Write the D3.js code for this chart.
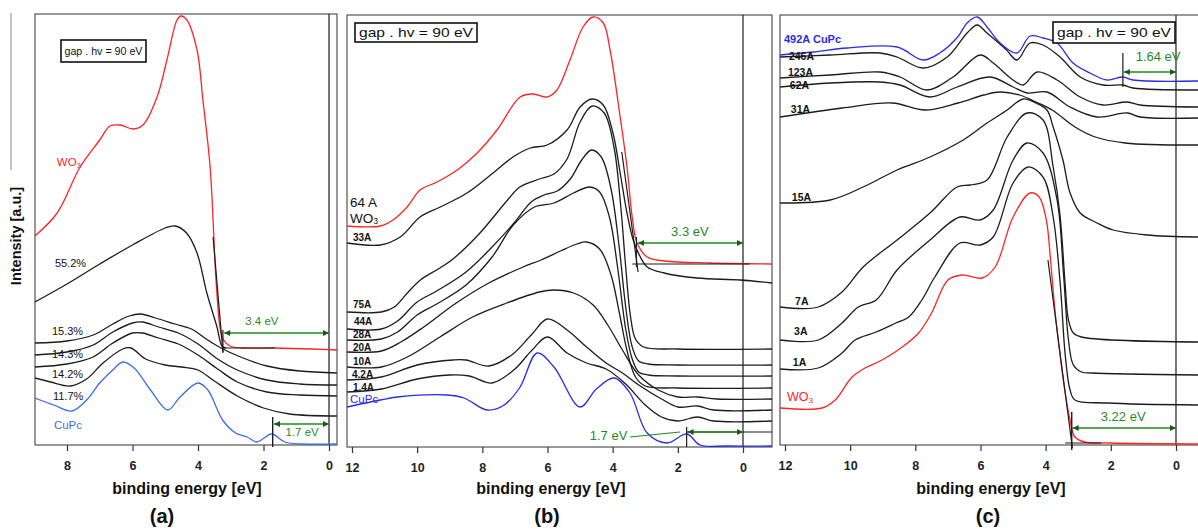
<!DOCTYPE html>
<html>
<head>
<meta charset="utf-8">
<script src="https://cdn.jsdelivr.net/npm/d3@7"></script>
<style>
  body { margin: 0; background: #fff; }
  svg { display: block; font-family: "Liberation Sans", Arial, sans-serif; }
</style>
</head>
<body>
<div id="chart"></div>
<script>
// ---- tick labels ----
const aTicks = [8, 6, 4, 2, 0];
const bTicks = [12, 10, 8, 6, 4, 2, 0];
const cTicks = [12, 10, 8, 6, 4, 2, 0];

// ---- panel (a): [binding energy eV, intensity a.u.] ----
const aWO3 = [[8.98,209],[8.3,232],[7.6,278],[7.0,305],[6.69,319],[6.38,320],[5.98,316],[5.68,320],[5.25,348],[4.95,385],[4.64,425],[4.52,429],[4.34,425],[4.03,395],[3.85,345],[3.63,278],[3.45,165],[3.33,118],[3.24,106],[3.02,99],[2.56,97],[1.65,97],[0.5,96],[-0.24,95]];
const a552 = [[8.98,143],[8.0,161],[7.0,181],[6.0,200],[5.0,217],[4.7,219],[4.35,212],[4.03,192],[3.73,152],[3.42,118],[3.27,99],[3.15,97]];
const a153 = [[8.98,102],[8.0,104],[7.2,110],[6.6,121],[6.1,129],[5.75,131],[5.3,127],[4.7,121],[4.2,116],[3.75,106],[3.3,97],[2.7,88],[1.9,79],[0.9,74],[-0.24,72]];
const a143 = [[8.98,90],[8.0,93],[7.2,100],[6.6,113],[6.0,122],[5.7,123],[5.2,118],[4.6,112],[4.0,101],[3.4,86],[2.8,75],[1.9,65],[0.9,61],[-0.24,60]];
const a142 = [[8.98,78],[8.0,81],[7.2,88],[6.6,102],[6.0,112],[5.7,112],[5.2,107],[4.6,101],[4.0,90],[3.4,76],[2.8,63],[1.9,53],[0.9,50],[-0.24,49]];
const a117 = [[8.98,67],[8.5,63],[7.9,59],[7.4,66],[6.9,82],[6.3,96],[6.05,97],[5.6,86],[5.0,80],[4.5,78],[4.0,75],[3.5,64],[2.8,49],[2.0,37],[1.2,31],[-0.24,29]];
const aCuPc = [[8.98,47],[8.4,40],[7.85,34],[7.4,45],[7.0,62],[6.6,75],[6.3,83],[5.95,77],[5.45,55],[4.92,35],[4.55,48],[4.0,62],[3.7,55],[3.25,25],[2.85,12],[2.5,8],[2.2,3],[1.75,11],[1.35,3],[0.8,1],[-0.24,1]];

// ---- panel (b) ----
const bWO3 = [[12.15,221],[11.13,221],[10.74,227],[10.31,240],[9.91,257],[9.39,265],[8.77,277],[8.16,294],[7.55,317],[6.84,350],[6.44,353],[6.01,350],[5.71,357],[5.31,387],[4.91,420],[4.6,430],[4.29,424],[4.08,397],[3.77,330],[3.56,280],[3.4,230],[3.25,204],[2.94,190],[2.4,186],[1.0,184],[-0.89,183]];
const b33 = [[12.15,204],[11.13,202],[10.52,210],[9.91,230],[9.29,240],[8.47,254],[7.67,274],[7.06,290],[6.53,299],[6.01,302],[5.4,317],[5.0,340],[4.63,348],[4.29,342],[3.99,314],[3.77,274],[3.56,234],[3.37,207],[3.15,190],[2.94,180],[2.42,174],[1.41,169],[0.09,167],[-0.89,164]];
const b75 = [[12.15,135],[11.1,135],[10.7,140],[10.3,154],[9.9,167],[9.3,179],[8.9,188],[8.1,213],[7.25,246],[6.85,260],[6.25,268],[5.8,273],[5.4,288],[5.0,325],[4.63,341],[4.26,334],[3.96,300],[3.75,240],[3.6,180],[3.45,130],[3.3,108],[3.05,100],[2.0,98],[-0.89,98]];
const b44 = [[12.15,118],[11.1,118],[10.6,126],[10.0,145],[9.4,156],[8.5,175],[7.7,200],[7.0,225],[6.5,245],[6.1,252],[5.7,256],[5.3,268],[4.95,287],[4.65,297],[4.35,290],[4.05,258],[3.8,200],[3.6,140],[3.4,100],[3.2,86],[2.9,83],[2.0,82],[-0.89,82]];
const b28 = [[12.15,107],[11.1,108],[10.6,115],[10.0,132],[9.4,143],[8.5,162],[7.7,190],[7.05,222],[6.4,240],[5.8,244],[5.2,254],[4.7,260],[4.4,255],[4.1,230],[3.85,180],[3.6,118],[3.4,88],[3.2,75],[2.9,72],[2.0,71],[-0.89,71]];
const b20 = [[12.15,95],[11.1,96],[10.5,105],[9.8,120],[8.8,144],[7.8,164],[6.75,180],[6.2,187],[5.6,196],[5.1,203],[4.8,205],[4.4,198],[4.05,172],[3.8,135],[3.55,95],[3.3,70],[3.0,61],[2.0,59],[-0.89,59]];
const b10 = [[12.15,80],[11.1,80],[10.3,90],[9.3,110],[8.3,130],[7.25,144],[6.25,155],[5.8,157],[5.2,154],[4.6,142],[4.15,122],[3.7,97],[3.2,72],[2.6,57],[2.0,50],[1.4,50],[0.8,48],[-0.89,48]];
const b4_2 = [[12.15,67],[11.1,70],[10.0,82],[8.9,87],[8.5,87],[7.8,81],[7.1,92],[6.5,112],[6.0,128],[5.4,117],[4.8,100],[4.2,84],[3.7,74],[3.2,62],[2.5,48],[2.0,40],[1.4,41],[0.9,37],[-0.89,37]];
const b1_4 = [[12.15,55],[11.1,58],[10.0,68],[9.0,72],[8.4,71],[7.7,64],[7.0,78],[6.5,96],[6.0,110],[5.4,94],[4.8,84],[4.2,78],[3.6,63],[3.0,42],[2.5,30],[2.0,26],[1.4,30],[0.9,26],[-0.89,26]];
const bCuPc = [[12.15,40],[11.13,47],[10.61,50],[9.08,52],[8.56,49],[7.85,37],[7.33,42],[6.84,60],[6.32,94],[5.8,80],[5.0,40],[4.5,58],[3.96,69],[3.47,54],[2.94,14],[2.33,4],[1.72,13],[1.32,2],[0.5,1],[-0.89,1]];

// ---- panel (c) ----
const cCuPc = [[12.15,390],[11.13,393],[10.09,397],[8.56,398],[7.76,385],[7.25,392],[6.7,408],[6.41,422],[6.1,428],[5.8,418],[5.4,402],[4.88,392],[4.48,409],[4.08,407],[3.65,402],[3.16,382],[2.64,372],[2.12,365],[1.63,368],[1.32,365],[-0.7,364]];
const c246 = [[12.15,388],[10.61,390],[9.08,392],[8.56,388],[7.76,377],[7.02,388],[6.41,412],[6.1,420],[5.8,412],[5.2,395],[4.88,385],[4.48,402],[4.08,400],[3.56,388],[2.94,368],[2.24,360],[1.63,360],[1.32,357],[-0.7,355]];
const c123 = [[12.15,367],[10.61,370],[9.08,373],[8.47,368],[7.64,355],[6.84,368],[6.01,390],[5.61,382],[5.0,365],[4.69,360],[4.26,373],[3.65,365],[2.94,348],[2.24,340],[1.5,343],[1.1,340],[-0.7,338]];
const c62 = [[12.15,358],[10.61,362],[9.08,363],[8.47,360],[7.55,348],[6.72,358],[5.71,368],[5.0,358],[4.57,352],[3.96,353],[3.25,338],[2.42,328],[1.5,332],[1.1,328],[-0.7,327]];
const c31 = [[12.15,328],[10.25,337],[8.71,342],[7.7,335],[6.69,342],[5.9,350],[5.4,353],[4.8,350],[4.3,343],[3.8,335],[3.1,318],[2.48,308],[1.56,302],[-0.7,300]];
const c15 = [[12.15,242],[10.61,245],[9.6,258],[8.56,275],[7.55,288],[6.53,305],[5.8,322],[5.18,335],[4.69,346],[4.3,342],[3.96,335],[3.77,318],[3.47,285],[3.25,252],[2.94,232],[2.42,222],[1.93,215],[0.89,210],[-0.7,208]];
const c7 = [[12.15,138],[10.98,138],[10.25,153],[9.6,178],[8.56,205],[7.55,232],[6.72,258],[6.32,260],[5.8,265],[5.18,308],[4.57,332],[4.08,325],[3.77,278],[3.56,230],[3.4,160],[3.3,125],[3.15,112],[2.9,108],[-0.7,103]];
const c3 = [[12.15,105],[10.98,105],[10.25,122],[9.75,138],[9.2,145],[8.56,175],[7.55,205],[6.63,228],[6.01,225],[5.61,235],[5.0,285],[4.57,302],[4.08,292],[3.65,245],[3.45,170],[3.3,105],[3.15,80],[2.9,73],[2.58,72],[-0.7,70]];
const c1 = [[12.15,76],[10.98,77],[10.25,92],[9.85,105],[9.2,113],[8.6,122],[8.2,128],[7.8,145],[7.4,168],[6.63,202],[6.01,200],[5.61,208],[5.0,262],[4.54,278],[4.08,268],[3.77,228],[3.55,160],[3.4,90],[3.25,55],[3.1,45],[2.1,42],[-0.7,40]];
const cWO3 = [[12.15,37],[10.86,37],[10.46,45],[9.94,68],[9.54,77],[9.02,85],[8.4,98],[7.9,112],[7.5,132],[7.0,165],[6.56,170],[5.95,167],[5.55,178],[5.0,228],[4.48,252],[4.2,248],[3.98,225],[3.85,185],[3.7,130],[3.4,52],[3.25,25],[3.1,8],[2.8,3],[2.0,2],[-0.7,1]];

const RED = "#ff2424", BLACK = "#1c1c1c", GREEN = "#1f8a1f";
const BLUE_A = "#3a6ee6", BLUE = "#2a2ae8";

const svg = d3.select("#chart").append("svg")
  .attr("width", 1198).attr("height", 530);

// 矢印マーカー
svg.append("defs").append("marker")
  .attr("id", "arr")
  .attr("viewBox", "0 0 10 10")
  .attr("refX", 10).attr("refY", 5)
  .attr("markerUnits", "userSpaceOnUse")
  .attr("markerWidth", 8).attr("markerHeight", 6)
  .attr("orient", "auto-start-reverse")
  .append("path").attr("d", "M0,0L10,5L0,10z").attr("fill", "#185c18");

function setupPanel(id, box, ticks) {
  const x = d3.scaleLinear().domain([box.eMax, box.eMin]).range([box.left, box.right]);
  const y = d3.scaleLinear().domain([0, box.bottom - box.top]).range([box.bottom, box.top]);
  const g = svg.append("g");

  g.append("clipPath").attr("id", "clip-" + id)
    .append("rect")
    .attr("x", box.left).attr("y", box.top)
    .attr("width", box.right - box.left).attr("height", box.bottom - box.top);

  const axis = d3.axisBottom(x).tickValues(ticks).tickSize(6).tickSizeOuter(0).tickPadding(10);
  const ax = g.append("g")
    .attr("transform", "translate(0," + box.bottom + ")")
    .call(axis);
  ax.select(".domain").remove();
  ax.selectAll("line").attr("stroke", "#333").attr("stroke-width", 1.2);
  ax.selectAll("text")
    .attr("fill", "#222").style("font-size", "12.5px").style("font-weight", "bold");

  // 枠
  g.append("rect")
    .attr("x", box.left).attr("y", box.top)
    .attr("width", box.right - box.left).attr("height", box.bottom - box.top)
    .attr("fill", "none").attr("stroke", "#444").attr("stroke-width", 1.1);

  // 0 eV の縦線
  g.append("line")
    .attr("x1", x(0)).attr("x2", x(0))
    .attr("y1", box.top).attr("y2", box.bottom)
    .attr("stroke", BLACK).attr("stroke-width", 1.2);

  g.append("text")
    .attr("x", box.titleX).attr("y", 490)
    .attr("text-anchor", "middle").attr("dominant-baseline", "middle")
    .style("font-size", "16px").style("font-weight", "bold").attr("fill", "#111")
    .text("binding energy [eV]");
  g.append("text")
    .attr("x", box.letterX).attr("y", 518)
    .attr("text-anchor", "middle").attr("dominant-baseline", "middle")
    .style("font-size", "20px").style("font-weight", "bold").attr("fill", "#111")
    .text(box.letter);

  const curves = g.append("g").attr("clip-path", "url(#clip-" + id + ")");
  return { x, y, g, curves };
}

function drawCurve(p, data, color) {
  const line = d3.line()
    .x(d => p.x(d[0]))
    .y(d => p.y(d[1]))
    .curve(d3.curveCatmullRom.alpha(0.5));
  p.curves.append("path")
    .datum(data)
    .attr("fill", "none")
    .attr("stroke", color)
    .attr("stroke-width", 1.3)
    .attr("stroke-linejoin", "round")
    .attr("d", line);
}

function seg(p, e1, i1, e2, i2, color, w) {
  p.g.append("line")
    .attr("x1", p.x(e1)).attr("y1", p.y(i1))
    .attr("x2", p.x(e2)).attr("y2", p.y(i2))
    .attr("stroke", color).attr("stroke-width", w || 1.2);
}

function arrow(p, e1, e2, i) {
  p.g.append("line")
    .attr("x1", p.x(e1)).attr("y1", p.y(i))
    .attr("x2", p.x(e2)).attr("y2", p.y(i))
    .attr("stroke", GREEN).attr("stroke-width", 1.3)
    .attr("marker-start", "url(#arr)").attr("marker-end", "url(#arr)");
}

function label(p, e, i, txt, opt) {
  opt = opt || {};
  const t = p.g.append("text")
    .attr("x", p.x(e)).attr("y", p.y(i))
    .attr("dominant-baseline", "middle")
    .attr("text-anchor", opt.anchor || "start")
    .attr("fill", opt.color || "#111")
    .style("font-size", (opt.size || 11) + "px")
    .style("font-weight", opt.bold ? "bold" : "normal");
  if (opt.sub) {
    t.append("tspan").text(txt);
    t.append("tspan").attr("dy", "0.35em").style("font-size", ((opt.size || 11) * 0.65) + "px").text(opt.sub);
  } else {
    t.text(txt);
  }
  return t;
}

function gapBox(x0, y0, w, h, size, len) {
  svg.append("rect").attr("x", x0).attr("y", y0).attr("width", w).attr("height", h)
    .attr("fill", "#fff").attr("stroke", "#111").attr("stroke-width", 1.6);
  svg.append("text").attr("x", x0 + w / 2).attr("y", y0 + h / 2 + 1)
    .attr("text-anchor", "middle").attr("dominant-baseline", "middle")
    .attr("textLength", len).attr("lengthAdjust", "spacingAndGlyphs")
    .style("font-size", size + "px").attr("fill", "#111")
    .text("gap . hv = 90 eV");
}

// y 軸タイトル
svg.append("line").attr("x1", 11).attr("x2", 11).attr("y1", 13).attr("y2", 170)
  .attr("stroke", "#888").attr("stroke-width", 1);
svg.append("text")
  .attr("transform", "translate(17,236) rotate(-90)")
  .attr("text-anchor", "middle").attr("dominant-baseline", "middle")
  .style("font-size", "14.5px").style("font-weight", "bold").attr("fill", "#111")
  .text("Intensity [a.u.]");

// ===== (a) =====
const pa = setupPanel("a", { left: 35, right: 337, top: 14, bottom: 445, eMax: 8.977, eMin: -0.244, titleX: 187, letterX: 162, letter: "(a)" }, aTicks);
[a552, a153, a143, a142, a117].forEach(d => drawCurve(pa, d, BLACK));
drawCurve(pa, aCuPc, BLUE_A);
drawCurve(pa, aWO3, RED);
seg(pa, 3.54, 208, 3.24, 93, BLACK);
seg(pa, 3.24, 115, 3.24, 92, BLACK);
seg(pa, 3.24, 97, 1.65, 97, BLACK);
arrow(pa, 3.2, 0, 112);
label(pa, 2.05, 123, "3.4 eV", { anchor: "middle", color: GREEN, size: 11.5 });
seg(pa, 1.72, 28, 1.72, -2, BLACK, 1.4);
arrow(pa, 1.68, 0, 21);
label(pa, 0.82, 12, "1.7 eV", { anchor: "middle", color: GREEN, size: 11.5 });
label(pa, 8.31, 282, "WO", { color: RED, size: 11.5, sub: "3" });
label(pa, 8.37, 181, "55.2%");
label(pa, 8.46, 113, "15.3%");
label(pa, 8.46, 90, "14.3%");
label(pa, 8.46, 70, "14.2%");
label(pa, 8.43, 48, "11.7%");
label(pa, 8.4, 19, "CuPc", { color: BLUE_A, size: 11.5 });
gapBox(61, 40, 85, 22, 10.5, 78);

// ===== (b) =====
const pb = setupPanel("b", { left: 347, right: 772, top: 15, bottom: 447, eMax: 12.153, eMin: -0.890, titleX: 551, letterX: 547, letter: "(b)" }, bTicks);
[b33, b75, b44, b28, b20, b10, b4_2, b1_4].forEach(d => drawCurve(pb, d, BLACK));
drawCurve(pb, bCuPc, BLUE);
drawCurve(pb, bWO3, RED);
seg(pb, 3.72, 295, 3.22, 175, BLACK);
seg(pb, 3.27, 210, 3.27, 180, BLACK);
seg(pb, 3.4, 183, -0.2, 183, BLACK);
arrow(pb, 3.22, 0, 204);
label(pb, 1.63, 214, "3.3 eV", { anchor: "middle", color: GREEN, size: 13 });
seg(pb, 1.73, 20, 1.73, 0, BLACK);
seg(pb, 1.73, 15, -0.89, 15, BLACK);
arrow(pb, 1.7, 0, 15);
seg(pb, 3.47, 10, 1.93, 15, GREEN);
label(pb, 3.55, 10, "1.7 eV", { anchor: "end", color: GREEN, size: 13 });
label(pb, 12.06, 244, "64 A", { size: 13.5 });
label(pb, 12.06, 228, "WO", { size: 13.5, sub: "3" });
label(pb, 11.97, 209, "33A", { size: 10, bold: true });
label(pb, 11.97, 142, "75A", { size: 10, bold: true });
label(pb, 11.94, 125, "44A", { size: 10, bold: true });
label(pb, 11.97, 112, "28A", { size: 10, bold: true });
label(pb, 11.97, 99, "20A", { size: 10, bold: true });
label(pb, 11.97, 85, "10A", { size: 10, bold: true });
label(pb, 12.0, 72, "4.2A", { size: 10, bold: true });
label(pb, 11.97, 59, "1.4A", { size: 10, bold: true });
label(pb, 12.06, 47, "CuPc", { size: 11.5, color: BLUE });
gapBox(355, 23, 122, 19, 13, 114);

// ===== (c) =====
const pc = setupPanel("c", { left: 780, right: 1199, top: 15, bottom: 445, eMax: 12.153, eMin: -0.706, titleX: 991, letterX: 988, letter: "(c)" }, cTicks);
[c246, c123, c62, c31, c15, c7, c3, c1].forEach(d => drawCurve(pc, d, BLACK));
drawCurve(pc, cCuPc, BLUE);
drawCurve(pc, cWO3, RED);
seg(pc, 1.63, 392, 1.63, 358, BLACK);
arrow(pc, 1.6, 0, 373);
label(pc, 0.55, 387, "1.64 eV", { anchor: "middle", color: GREEN, size: 13 });
seg(pc, 3.93, 185, 3.18, -3, BLACK);
seg(pc, 3.2, 33, 3.2, -5, BLACK, 1.4);
seg(pc, 3.4, 2, 2.3, 2, BLACK);
arrow(pc, 3.17, 0, 17);
label(pc, 1.62, 27, "3.22 eV", { anchor: "middle", color: GREEN, size: 13 });
label(pc, 12.03, 405, "492A CuPc", { size: 11, bold: true, color: BLUE });
label(pc, 11.88, 388, "246A", { size: 10.5, bold: true });
label(pc, 11.91, 372, "123A", { size: 10.5, bold: true });
label(pc, 11.85, 359, "62A", { size: 10.5, bold: true });
label(pc, 11.82, 335, "31A", { size: 10.5, bold: true });
label(pc, 11.79, 247, "15A", { size: 10.5, bold: true });
label(pc, 11.69, 143, "7A", { size: 10.5, bold: true });
label(pc, 11.72, 113, "3A", { size: 10.5, bold: true });
label(pc, 11.76, 82, "1A", { size: 10.5, bold: true });
label(pc, 11.94, 47, "WO", { size: 12.5, color: RED, sub: "3" });
gapBox(1053, 22, 122, 21, 13, 114);
</script>
</body>
</html>
